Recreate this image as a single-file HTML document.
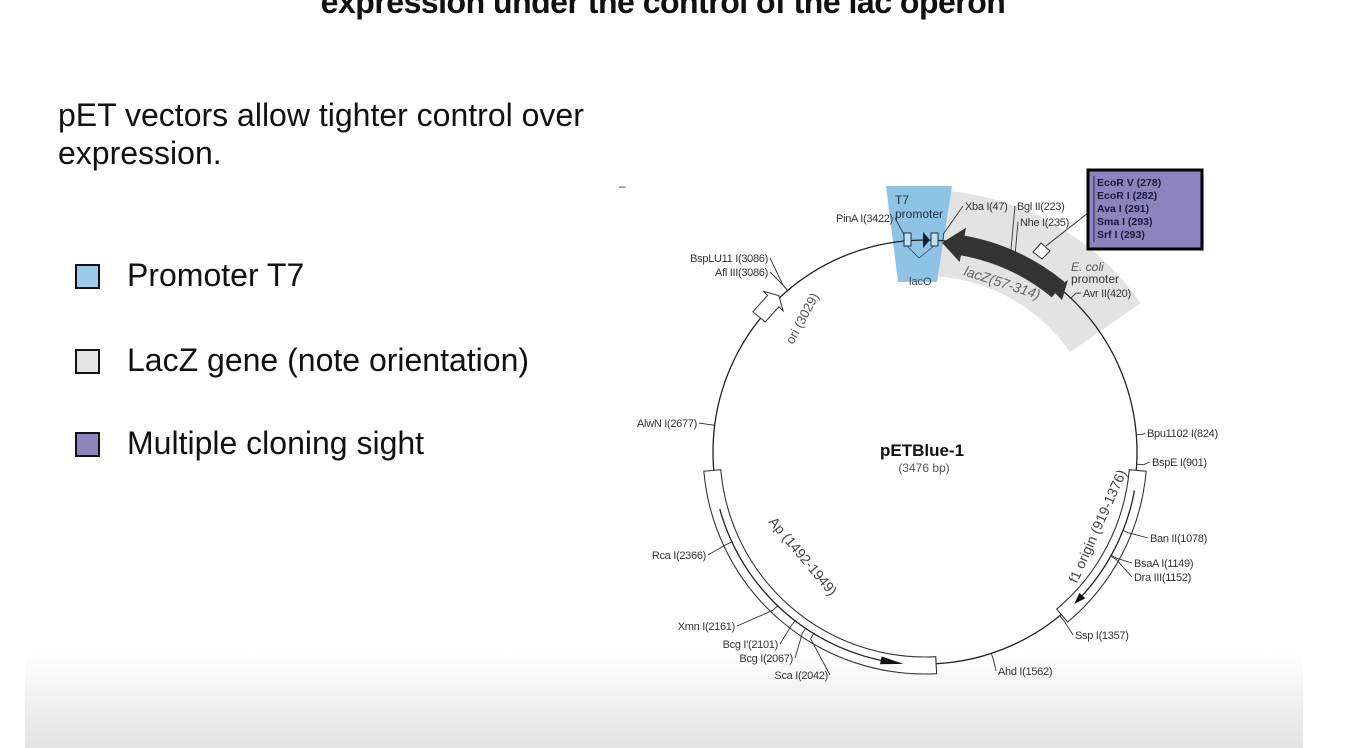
<!DOCTYPE html>
<html><head><meta charset="utf-8">
<style>
body{margin:0;width:1352px;height:748px;overflow:hidden;background:#fff;font-family:"Liberation Sans",Arial,sans-serif;position:relative}
.t{position:absolute;white-space:nowrap;color:#111}
.sq{position:absolute;width:21px;height:21px;border:2.5px solid #111}
</style></head><body>
<div style="position:absolute;left:25px;top:650px;width:1278px;height:98px;background:linear-gradient(#fff,#e3e3e3)"></div>
<div class="t" style="left:0;width:1326px;text-align:center;top:-16px;font-size:32px;font-weight:bold;letter-spacing:-0.5px">expression under the control of the lac operon</div>
<div class="t" style="left:58px;top:96px;font-size:32px;line-height:38px">pET vectors allow tighter control over<br>expression.</div>
<div class="sq" style="left:75px;top:264px;background:#9ccbe8"></div>
<div class="t" style="left:127px;top:257px;font-size:32px">Promoter T7</div>
<div class="sq" style="left:75px;top:349px;background:#e4e4e4"></div>
<div class="t" style="left:127px;top:342px;font-size:32px">LacZ gene (note orientation)</div>
<div class="sq" style="left:75px;top:432px;background:#8e84bd"></div>
<div class="t" style="left:127px;top:425px;font-size:32px">Multiple cloning sight</div>

<svg id="map" width="1352" height="748" style="position:absolute;left:0;top:0" font-family="Liberation Sans, Arial, sans-serif">
<text x="619" y="190" font-size="12" fill="#333">–</text>
</svg>
<script>
const TOTAL = 3476;
const siteNames = ["Bpu1102 I","BspE I","Ban II","BsaA I","Dra III","Ssp I","Ahd I","Sca I","Bcg I","Bcg I'","Xmn I","Rca I","AlwN I","Afl III","BspLU11 I","PinA I","Xba I","Bgl II","Nhe I","Avr II"];
const sitePos = [824,901,1078,1149,1152,1357,1562,2042,2067,2101,2161,2366,2677,3086,3086,3422,47,223,235,420];
// label anchor points (layout)
const labelXY = [[1147,437,"start"],[1152,466,"start"],[1150,542,"start"],[1134,567,"start"],[1134,581,"start"],[1075,639,"start"],[998,675,"start"],[828,679,"end"],[793,662,"end"],[778,648,"end"],[735,630,"end"],[706,559,"end"],[697,427,"end"],[768,276,"end"],[768,262,"end"],[893,222,"end"],[965,210,"start"],[1017,210,"start"],[1020,226,"start"],[1083,297,"start"]];
const featNames = ["f1 origin (919-1376)","Ap (1492-1949)"];
const featStart = [917,1709];
const featEnd = [1352,2559];
const featDir = [1,-1];
const CX=925, CY=452, R=212;
const svg=document.getElementById('map');
const NS="http://www.w3.org/2000/svg";
function ang(bp){return bp/TOTAL*2*Math.PI;}
function pt(bp,r){const a=ang(bp);return [CX+r*Math.sin(a),CY-r*Math.cos(a)];}
function mk(tag,attrs){const e=document.createElementNS(NS,tag);for(const k in attrs)e.setAttribute(k,attrs[k]);svg.appendChild(e);return e;}
function arcPath(b0,b1,r){const p0=pt(b0,r),p1=pt(b1,r);const large=(b1-b0)/TOTAL>0.5?1:0;return `M${p0[0]},${p0[1]} A${r},${r} 0 ${large} 1 ${p1[0]},${p1[1]}`;}
function band(b0,b1,r0,r1){const a=pt(b0,r1),b=pt(b1,r1),c=pt(b1,r0),d=pt(b0,r0);const large=(b1-b0)/TOTAL>0.5?1:0;return `M${a[0]},${a[1]} A${r1},${r1} 0 ${large} 1 ${b[0]},${b[1]} L${c[0]},${c[1]} A${r0},${r0} 0 ${large} 0 ${d[0]},${d[1]} Z`;}

let e=mk('path',{d:band(25,535,176,262),fill:'#e3e3e3'});


e=mk('polygon',{points:'886,186 952,186 937,282 898,282',fill:'#8fc3e6'});


e=mk('circle',{cx:CX,cy:CY,r:R,fill:'none',stroke:'#222','stroke-width':1.3});


featNames.forEach((n,i)=>{
  const s=featStart[i], en=featEnd[i], len=en-s;
  const p=mk('path',{d:band(s,en,205,222),fill:'#fff',stroke:'#333','stroke-width':1.1});
  
  
  const inner=mk('path',{d:arcPath(s+len*0.12,en-len*0.12,213),fill:'none',stroke:'#222','stroke-width':1.3});
  
  
  let tipBp, baseBp;
  if(featDir[i]>0){tipBp=en-len*0.1;baseBp=en-len*0.17;}else{tipBp=s+len*0.1;baseBp=s+len*0.17;}
  const tip=pt(tipBp,213), b1=pt(baseBp,209), b2=pt(baseBp,217);
  const h=mk('polygon',{points:`${tip} ${b1} ${b2}`,fill:'#111'});
  
  
});
e=mk('text',{x:0,y:0,'font-size':14,fill:'#444',transform:'translate(1077,584) rotate(-66)'});e.textContent=featNames[0];


e=mk('text',{x:0,y:0,'font-size':14,fill:'#444',transform:'translate(768,522) rotate(50)'});e.textContent=featNames[1];


e=mk('path',{d:band(95,380,200,220),fill:'#333'});


{const t=pt(45,210),a=pt(100,193),b=pt(100,228);e=mk('polygon',{points:`${t} ${a} ${b}`,fill:'#333'});}


e=mk('text',{x:0,y:0,'font-size':14,fill:'#666','font-style':'italic',transform:'translate(963,275) rotate(18)'});e.textContent='lacZ(57-314)';


mk('rect',{x:904,y:233,width:7,height:13,fill:'#bfe0f3',stroke:'#234','stroke-width':1});
mk('rect',{x:931,y:233,width:7,height:13,fill:'#bfe0f3',stroke:'#234','stroke-width':1});
mk('polygon',{points:'923,232 930,240 923,248',fill:'#123'});
mk('polyline',{points:'907,246 919,258 934,246',fill:'none',stroke:'#345','stroke-width':0.8});
e=mk('text',{x:895,y:204,'font-size':12,fill:'#234'});e.textContent='T7';


e=mk('text',{x:895,y:218,'font-size':12,fill:'#234'});e.textContent='promoter';
e=mk('text',{x:909,y:285,'font-size':11,fill:'#345'});e.textContent='lacO';


{const a=pt(2985,206),b=pt(2985,222),c=pt(3040,222),d=pt(3040,228),t=pt(3060,214),f=pt(3040,200),g=pt(3040,206);
e=mk('polygon',{points:`${a} ${b} ${c} ${d} ${t} ${f} ${g}`,fill:'#fff',stroke:'#333','stroke-width':1});}


e=mk('text',{x:0,y:0,'font-size':13,fill:'#555',transform:'translate(793,345) rotate(-62)'});e.textContent='ori (3029)';


mk('polygon',{points:'1052,290 1068,280 1062,300',fill:'#333'});
e=mk('text',{x:1071,y:271,'font-size':12,fill:'#555','font-style':'italic'});e.textContent='E. coli';


e=mk('text',{x:1071,y:283,'font-size':12,fill:'#333'});e.textContent='promoter';
mk('polygon',{points:'1033,252 1041,243 1050,251 1042,259',fill:'#fff',stroke:'#333','stroke-width':1});
mk('line',{x1:1046,y1:246,x2:1088,y2:213,stroke:'#333','stroke-width':1});
e=mk('rect',{x:1088,y:170,width:114,height:79,fill:'#8e84bd',stroke:'#000','stroke-width':3});


mk('line',{x1:1094,y1:176,x2:1094,y2:242,stroke:'#223','stroke-width':1});
const mcs=["EcoR V (278)","EcoR I (282)","Ava I (291)","Sma I (293)","Srf I (293)"];
mcs.forEach((s,i)=>{const t=mk('text',{x:1097,y:186+i*13,'font-size':10.5,'font-weight':'bold',fill:'#1a1a3a'});t.textContent=s;

});
siteNames.forEach((n,i)=>{
  const a=pt(sitePos[i],R), b=pt(sitePos[i],R+7), L=labelXY[i];
  const lx=L[2]==='start'?L[0]-2:L[0]+2;
  const ln=mk('polyline',{points:`${a} ${b} ${lx},${L[1]-4}`,fill:'none',stroke:'#333','stroke-width':0.9});
  
  
  const t=mk('text',{x:L[0],y:L[1],'font-size':11,fill:'#333','text-anchor':L[2],'letter-spacing':'-0.3'});
  t.textContent=n+'('+sitePos[i]+')';
  
  
});
e=mk('text',{x:922,y:456,'font-size':17,'font-weight':'bold','text-anchor':'middle',fill:'#111'});e.textContent='pETBlue-1';


e=mk('text',{x:924,y:472,'font-size':12,'text-anchor':'middle',fill:'#555'});e.textContent='(3476 bp)';


</script>
</body></html>
